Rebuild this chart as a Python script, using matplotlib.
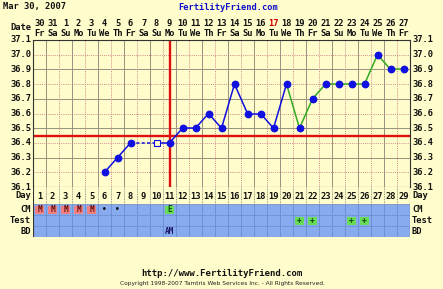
import matplotlib
matplotlib.use('Agg')
import matplotlib.pyplot as plt
from matplotlib.transforms import blended_transform_factory as btf

# ---------------- data ----------------
days = list(range(1, 30))
dates = ['30', '31', '1', '2', '3', '4', '5', '6', '7', '8', '9', '10', '11', '12', '13',
         '14', '15', '16', '17', '18', '19', '20', '21', '22', '23', '24', '25', '26', '27']
weekdays = ['Fr', 'Sa', 'Su', 'Mo', 'Tu', 'We', 'Th'] * 4 + ['Fr']
temps = [None, None, None, None, None, 36.2, 36.3, 36.4, None, 36.4, 36.4, 36.5, 36.5,
         36.6, 36.5, 36.8, 36.6, 36.6, 36.5, 36.8, 36.5, 36.7, 36.8, 36.8, 36.8, 36.8,
         37.0, 36.9, 36.9]
open_days = [10]          # hollow marker day
dashed_from = 8           # dashed gap bridging to day 10
green_from = 20           # line turns green from this day on
ovulation_day = 11
coverline = 36.45
ytick_vals = [37.1, 37.0, 36.9, 36.8, 36.7, 36.6, 36.5, 36.4, 36.3, 36.2, 36.1]
cm_marks = {1: 'M', 2: 'M', 3: 'M', 4: 'M', 5: 'M', 6: '•', 7: '•', 11: 'E'}
test_marks = {21: '+', 22: '+', 25: '+', 26: '+'}
bd_marks = {11: 'AM'}
title_date = 'Mar 30, 2007'
site = 'FertilityFriend.com'
footer_url = 'http://www.FertilityFriend.com'
footer_copy = 'Copyright 1998-2007 Tamtris Web Services Inc. - All Rights Reserved.'

# ---------------- style ----------------
W, H = 443, 289
BG = '#FFFDCB'
ROWBLUE = '#88AAEE'
DARKGRID = '#9A9080'
PINKGRID = '#D08A8A'
BLUE = '#1010E0'
GREEN = '#33AA22'
RED = '#E01010'
FONT = 'DejaVu Sans Mono'

def fx(px):
    return px / W

def fy(py):
    return 1 - py / H

fig = plt.figure(figsize=(W / 100, H / 100), dpi=100, facecolor=BG)

L, R, T, B = 33, 410, 40, 187
ax = fig.add_axes([fx(L), fy(B), (R - L) / W, (B - T) / H])
ax.set_facecolor(BG)
ax.set_xlim(0.5, 29.5)
ax.set_ylim(36.1, 37.1)
ax.set_xticks([])
ax.set_yticks([])
for s in ax.spines.values():
    s.set_color('#333333')
    s.set_linewidth(0.8)

# grid
for i, v in enumerate(ytick_vals[1:-1]):
    k = round(v * 10) % 2
    if k == 1:
        ax.axhline(v, color=DARKGRID, lw=0.7, zorder=1)
    else:
        ax.axhline(v, color=PINKGRID, lw=0.7, ls=(0, (1, 1.2)), zorder=1)
for d in range(1, 29):
    xb = d + 0.5
    if d % 2 == 1:
        ax.axvline(xb, color=DARKGRID, lw=0.7, zorder=1)
    else:
        ax.axvline(xb, color=PINKGRID, lw=0.7, ls=(0, (1, 1.2)), zorder=1)

# coverline and ovulation line
ax.axhline(coverline, color=RED, lw=1.7, zorder=2)
ax.axvline(ovulation_day, color=RED, lw=1.7, zorder=2)

# temperature segments
pts = [(d, t) for d, t in zip(days, temps) if t is not None]
for (d0, t0), (d1, t1) in zip(pts[:-1], pts[1:]):
    col = GREEN if d0 >= green_from else BLUE
    ls = '--' if d0 == dashed_from else '-'
    ax.plot([d0, d1], [t0, t1], color=col, lw=1.1, ls=ls, zorder=3,
            dashes=(2, 1.5) if ls == '--' else (None, None))
for d, t in pts:
    if d in open_days:
        ax.plot(d, t, marker='s', ms=3.8, mfc=BG, mec=BLUE, mew=0.8, zorder=4)
    else:
        ax.plot(d, t, marker='o', ms=4.6, mfc=BLUE, mec=BLUE, zorder=4)

# y labels both sides
for v in ytick_vals:
    y = ax.transData.transform((1, v))[1]
    yf = fig.transFigure.inverted().transform((0, y))[1]
    fig.text(fx(31), yf, f'{v:.1f}', ha='right', va='center', fontsize=6.3,
             family=FONT, weight='bold', color='#111111')
    fig.text(fx(412), yf, f'{v:.1f}', ha='left', va='center', fontsize=6.3,
             family=FONT, weight='bold', color='#111111')

# header
tr_head = btf(ax.transData, fig.transFigure)
for d, dt, wd in zip(days, dates, weekdays):
    c = '#CC0000' if dt == '17' else '#111111'
    ax.text(d, fy(23), dt, transform=tr_head, ha='center', va='center',
            fontsize=6.3, family=FONT, weight='bold', color=c)
    ax.text(d, fy(33), wd, transform=tr_head, ha='center', va='center',
            fontsize=6.3, family=FONT, weight='bold', color='#111111')
fig.text(fx(31), fy(28), 'Date', ha='right', va='center', fontsize=6.3,
         family=FONT, weight='bold', color='#111111')
fig.text(fx(3), fy(7), title_date, ha='left', va='center', fontsize=6.3,
         family=FONT, weight='bold', color='#111111')
fig.text(fx(228), fy(7), site, ha='center', va='center', fontsize=6.3,
         family=FONT, weight='bold', color='#1010CC')

# lower rows
rows = [('Day', 187, 204, BG), ('CM', 204, 215, ROWBLUE),
        ('Test', 215, 226, ROWBLUE), ('BD', 226, 237, ROWBLUE)]
rax = fig.add_axes([fx(L), fy(237), (R - L) / W, 50 / H])
rax.set_xlim(0.5, 29.5)
rax.set_ylim(237, 187)
rax.axis('off')
for name, y0, y1, col in rows:
    rax.fill_between([0.5, 29.5], y0, y1, color=col, lw=0, zorder=0)
    rax.plot([0.5, 29.5], [y1, y1], color='#5577BB' if col != BG else '#888888',
             lw=0.6, ls=(0, (1, 1)), zorder=1)
    yc = (y0 + y1) / 2
    fig.text(fx(31), fy(yc), name, ha='right', va='center', fontsize=6.3,
             family=FONT, weight='bold', color='#111111')
    fig.text(fx(412), fy(yc), name, ha='left', va='center', fontsize=6.3,
             family=FONT, weight='bold', color='#111111')
for d in range(1, 29):
    rax.plot([d + 0.5, d + 0.5], [187, 204], color='#777777', lw=0.6,
             ls=(0, (1, 1)), zorder=1)
    rax.plot([d + 0.5, d + 0.5], [204, 237], color='#6A8CD0', lw=0.6, zorder=1)
rax.plot([0.5, 0.5], [187, 237], color='#333333', lw=0.8)
rax.plot([29.5, 29.5], [187, 237], color='#333333', lw=0.8)
for d in days:
    rax.text(d, 196, str(d), ha='center', va='center', fontsize=6.3,
             family=FONT, weight='bold', color='#111111')


def cell(d, y0, y1, txt, fc, tc):
    if fc is not None:
        rax.fill_between([d - 0.38, d + 0.38], y0 + 1.5, y1 - 1.5, color=fc, lw=0, zorder=2)
    rax.text(d, (y0 + y1) / 2, txt, ha='center', va='center', fontsize=5.5,
             family=FONT, weight='bold', color=tc, zorder=3)


for d, m in cm_marks.items():
    if m == 'M':
        cell(d, 204, 215, m, '#F08080', '#661111')
    elif m == 'E':
        cell(d, 204, 215, m, '#66DD55', '#114411')
    else:
        cell(d, 204, 215, m, None, '#111111')
for d, m in test_marks.items():
    cell(d, 215, 226, m, '#66DD55', '#114411')
for d, m in bd_marks.items():
    cell(d, 226, 237, m, None, '#1A1A66')

# footer
fig.text(fx(222), fy(274), footer_url, ha='center', va='center', fontsize=6.5,
         family=FONT, weight='bold', color='#111111')
fig.text(fx(222), fy(284), footer_copy, ha='center', va='center', fontsize=4.2,
         family='DejaVu Sans', color='#222222')

fig.savefig('out.png', dpi=100, facecolor=BG)
